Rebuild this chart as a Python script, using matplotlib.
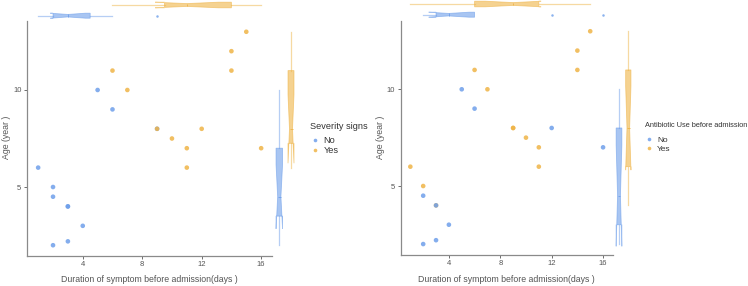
import matplotlib
matplotlib.use("Agg")
import matplotlib.pyplot as plt
from matplotlib.lines import Line2D

plt.rcParams["font.family"] = ["Liberation Sans", "DejaVu Sans"]

# one row per patient, in plotting order
DURATION = [15, 14, 6, 14, 5, 7, 6, 9, 9, 12, 10, 11, 16, 1, 11, 2, 2, 3, 3, 4, 3, 2]
AGE = [13, 12, 11, 11, 10, 10, 9, 8, 8, 8, 7.5, 7, 7, 6, 6, 5, 4.5, 4, 4, 3, 2.2, 2]
SEVERITY = ["Yes", "Yes", "Yes", "Yes", "No", "Yes", "No", "No", "Yes", "Yes", "Yes",
            "Yes", "Yes", "No", "Yes", "No", "No", "No", "No", "No", "No", "No"]
ANTIBIOTIC = ["Yes", "Yes", "Yes", "Yes", "No", "Yes", "No", "Yes", "Yes", "No", "Yes",
              "Yes", "No", "Yes", "Yes", "Yes", "No", "Yes", "No", "No", "No", "No"]

GROUPS = ["No", "Yes"]
X_TICKS = [4, 8, 12, 16]
Y_TICKS = [5, 10]

COLORS = {"No": "#6E9FEA", "Yes": "#EFB447"}
GREY = "#555555"

W, H = 748, 286


def px_axes(fig, x0, y0, x1, y1):
    # pixel box (top-left origin) -> figure axes
    return fig.add_axes([x0 / W, 1 - y1 / H, (x1 - x0) / W, (y1 - y0) / H])


def marginal_box(ax, values, pos, width, color, orientation):
    ax.boxplot(
        values, positions=[pos], widths=width, notch=True, patch_artist=True,
        orientation=orientation, manage_ticks=False,
        boxprops=dict(facecolor=color, edgecolor=color, alpha=0.6, linewidth=0.6),
        medianprops=dict(color=color, linewidth=0.6),
        whiskerprops=dict(color=color, alpha=0.5, linewidth=0.9),
        capprops=dict(visible=False),
        flierprops=dict(marker="o", markersize=1.8, markerfacecolor=color,
                        markeredgecolor="none", alpha=0.8),
    )


def panel(fig, group_col, title, main_box, top_pos, right_pos, legend_pos, legend_size):
    x0, y0, x1, y1 = main_box
    xlim = (0.25, 16.75)
    ylim = (1.45, 13.55)

    ax = px_axes(fig, x0, y0, x1, y1)
    ax.scatter(DURATION, AGE, s=11, c=[COLORS[g] for g in group_col],
               alpha=0.85, linewidths=0, zorder=3)
    ax.set_xlim(*xlim)
    ax.set_ylim(*ylim)
    ax.set_xticks(X_TICKS)
    ax.set_yticks(Y_TICKS)
    for side in ["top", "right"]:
        ax.spines[side].set_visible(False)
    for side in ["left", "bottom"]:
        ax.spines[side].set_color("#8A8A8A")
        ax.spines[side].set_linewidth(0.9)
    ax.tick_params(colors=GREY, labelsize=5.5, length=2, width=0.6, pad=2)

    fig.text((x0 + x1) / 2 / W, 1 - 279 / H,
             "Duration of symptom before admission(days )",
             fontsize=6.3, color=GREY, ha="center", va="center")
    fig.text((x0 - 20) / W, 1 - 137 / H, "Age (year )", rotation=90,
             fontsize=6.3, color=GREY, ha="center", va="center")

    # top margin: durations per group
    top = px_axes(fig, x0, 0, x1, y0)
    for g in GROUPS:
        vals = [d for d, grp in zip(DURATION, group_col) if grp == g]
        pos, wid = top_pos[g]
        marginal_box(top, vals, pos, wid, COLORS[g], "horizontal")
    top.set_xlim(*xlim)
    top.set_ylim(y0, 0)
    top.set_axis_off()

    # right margin: ages per group
    right = px_axes(fig, x1, y0, x1 + 30, y1)
    for g in GROUPS:
        vals = [a for a, grp in zip(AGE, group_col) if grp == g]
        pos, wid = right_pos[g]
        marginal_box(right, vals, pos, wid, COLORS[g], "vertical")
    right.set_xlim(0, 30)
    right.set_ylim(*ylim)
    right.set_axis_off()

    # legend: title as its own text, entries below it
    title_x, title_y, entry_x, entry_y = legend_pos
    title_size, label_size = legend_size
    fig.text(title_x / W, 1 - title_y / H, title, fontsize=title_size,
             color="#333333", ha="left", va="center")
    handles = [Line2D([], [], marker="o", linestyle="none", markersize=2.6,
                      markerfacecolor=COLORS[g], markeredgecolor="none", alpha=0.85)
               for g in GROUPS]
    leg = fig.legend(handles, GROUPS, loc="center left",
                     bbox_to_anchor=(entry_x / W, 1 - entry_y / H),
                     frameon=False, fontsize=label_size,
                     handletextpad=0.55, handlelength=0.8, labelspacing=0.1,
                     borderpad=0, borderaxespad=0)
    for t in leg.get_texts():
        t.set_color("#333333")


fig = plt.figure(figsize=(W / 100, H / 100), dpi=100)

panel(fig, SEVERITY, "Severity signs",
      (27, 21.1, 272.3, 255.9),
      {"Yes": (5, 5.6), "No": (15.7, 5)},
      {"No": (7, 6.5), "Yes": (18.7, 6)},
      (310.5, 126.7, 311.3, 145.7), (6.6, 6.6))

panel(fig, ANTIBIOTIC, "Antibiotic Use before admission",
      (400.7, 20.6, 612.7, 254.7),
      {"Yes": (4, 5.6), "No": (14.7, 5)},
      {"No": (6.3, 5.7), "Yes": (15.6, 5.3)},
      (645, 125.7, 645.7, 144.3), (5.3, 6.0))

fig.savefig("out.png", dpi=100)
